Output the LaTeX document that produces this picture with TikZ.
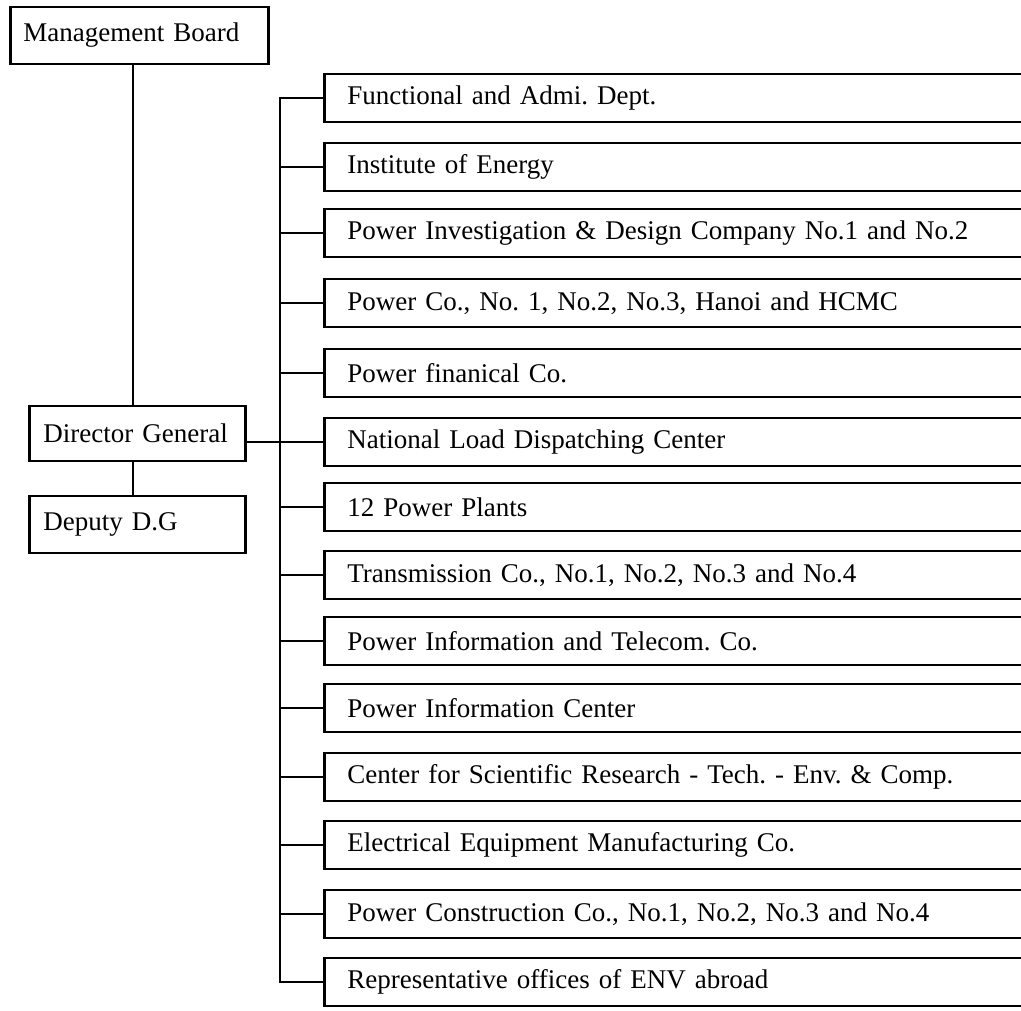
\documentclass[tikz,border=0pt]{standalone}
\usepackage{fontspec}
\setmainfont{Liberation Serif}
\frenchspacing
\begin{document}
\begin{tikzpicture}[x=1pt,y=-1pt,
  leftbox/.style={draw, line width=2.8pt, anchor=west, align=left, inner ysep=0pt,
    font=\fontsize{27}{31}\selectfont},
  unitbox/.style={draw, line width=2.8pt, anchor=west, align=left, inner ysep=0pt,
    minimum height=48pt, inner xsep=23pt, text width=680pt,
    font=\fontsize{27}{31}\selectfont},
  link/.style={line width=2.8pt, line join=miter}]
\useasboundingbox (0,0) rectangle (1021,1011);
% left column
\node[leftbox, minimum height=57pt, inner xsep=13pt, text width=232pt] (mb) at (9,35.5) {Management Board};
\node[leftbox, minimum height=55pt, inner xsep=14pt, text width=188pt] (dg) at (28,433.5) {Director General};
\node[leftbox, minimum height=57pt, inner xsep=14pt, text width=188pt] (dep) at (28,524.5) {Deputy D.G};
% right column
\node[unitbox] (b1) at (323,98) {Functional and Admi. Dept.};
\node[unitbox] (b2) at (323,167) {Institute of Energy};
\node[unitbox] (b3) at (323,233) {Power Investigation \& Design Company No.1 and No.2};
\node[unitbox] (b4) at (323,303) {Power Co., No. 1, No.2, No.3, Hanoi and HCMC};
\node[unitbox] (b5) at (323,373) {Power finanical Co.};
\node[unitbox] (b6) at (323,442) {National Load Dispatching Center};
\node[unitbox] (b7) at (323,507) {12 Power Plants};
\node[unitbox] (b8) at (323,575) {Transmission Co., No.1, No.2, No.3 and No.4};
\node[unitbox] (b9) at (323,641) {Power Information and Telecom. Co.};
\node[unitbox] (b10) at (323,708) {Power Information Center};
\node[unitbox] (b11) at (323,777) {Center for Scientific Research - Tech. - Env. \& Comp.};
\node[unitbox] (b12) at (323,845) {Electrical Equipment Manufacturing Co.};
\node[unitbox] (b13) at (323,914) {Power Construction Co., No.1, No.2, No.3 and No.4};
\node[unitbox] (b14) at (323,982) {Representative offices of ENV abroad};
% connectors
\coordinate (v) at (133,0);
\coordinate (t) at (280,0);
\draw[link] (v |- mb.south) -- (v |- dg.north);
\draw[link] (v |- dg.south) -- (v |- dep.north);
\draw[link] (dg.east |- b6.west) -- (b6.west);
\draw[link] (b1.west) -- (t |- b1.west) -- (t |- b14.west) -- (b14.west);
\foreach \i in {2,...,13} {
  \draw[link] (t |- b\i.west) -- (b\i.west);
}
\end{tikzpicture}
\end{document}
